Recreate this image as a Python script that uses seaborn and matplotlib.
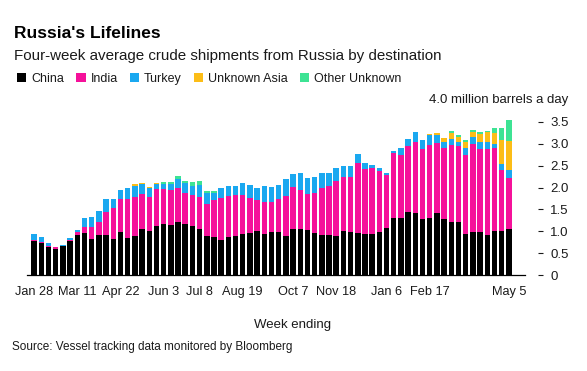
import numpy as np
import pandas as pd
import matplotlib
matplotlib.use("Agg")
import matplotlib.pyplot as plt
import seaborn as sns
from matplotlib.patches import Patch

# Weekly data, week ending Fridays, Jan 28 2022 .. May 5 2023 (million barrels a day)
weeks = pd.date_range("2022-01-28", periods=67, freq="7D")

china = [0.78, 0.74, 0.64, 0.60, 0.66, 0.77, 0.92, 0.96, 0.83, 0.92,
         0.92, 0.82, 0.98, 0.85, 0.90, 1.06, 1.01, 1.11, 1.17, 1.15,
         1.21, 1.17, 1.12, 1.05, 0.89, 0.86, 0.80, 0.88, 0.90, 0.93,
         0.96, 1.01, 0.93, 0.98, 0.98, 0.89, 1.05, 1.05, 1.03, 0.96,
         0.92, 0.92, 0.89, 1.01, 0.98, 0.95, 0.94, 0.94, 0.98, 1.08,
         1.31, 1.31, 1.43, 1.42, 1.29, 1.31, 1.42, 1.27, 1.22, 1.22,
         0.94, 0.98, 0.98, 0.92, 1.01, 1.00, 1.05]
india = [0.03, 0.02, 0.03, 0.03, 0.01, 0.03, 0.06, 0.14, 0.26, 0.30,
         0.53, 0.72, 0.76, 0.89, 0.89, 0.79, 0.77, 0.85, 0.80, 0.80,
         0.78, 0.70, 0.72, 0.73, 0.74, 0.86, 0.97, 0.93, 0.94, 0.90,
         0.81, 0.70, 0.74, 0.70, 0.75, 0.92, 0.96, 0.89, 0.82, 0.92,
         1.06, 1.12, 1.25, 1.23, 1.27, 1.62, 1.48, 1.51, 1.40, 1.20,
         1.47, 1.44, 1.51, 1.62, 1.59, 1.67, 1.60, 1.64, 1.76, 1.74,
         1.81, 2.02, 1.91, 1.95, 1.90, 1.40, 1.16]
turkey = [0.12, 0.10, 0.06, 0.02, 0.02, 0.05, 0.05, 0.20, 0.23, 0.25,
          0.28, 0.19, 0.21, 0.26, 0.25, 0.23, 0.22, 0.12, 0.11, 0.14,
          0.21, 0.23, 0.20, 0.27, 0.25, 0.16, 0.21, 0.23, 0.20, 0.28,
          0.28, 0.27, 0.36, 0.33, 0.33, 0.39, 0.30, 0.39, 0.36, 0.36,
          0.36, 0.30, 0.31, 0.25, 0.24, 0.19, 0.15, 0.07, 0.07, 0.05,
          0.06, 0.16, 0.18, 0.23, 0.20, 0.22, 0.17, 0.13, 0.12, 0.09,
          0.15, 0.16, 0.15, 0.17, 0.09, 0.14, 0.18]
unknown_asia = [0, 0, 0, 0, 0, 0, 0, 0, 0, 0,
                0, 0, 0, 0, 0.03, 0.03, 0.02, 0.03, 0, 0,
                0, 0, 0, 0, 0, 0, 0, 0, 0, 0,
                0, 0, 0, 0, 0, 0, 0, 0, 0, 0,
                0, 0, 0, 0, 0, 0, 0, 0, 0, 0,
                0, 0, 0, 0, 0, 0.03, 0.05, 0.10, 0.14, 0.11,
                0.14, 0.11, 0.19, 0.22, 0.24, 0.54, 0.68]
other_unknown = [0, 0, 0, 0, 0, 0, 0, 0, 0, 0,
                 0, 0, 0, 0, 0, 0, 0, 0, 0.04, 0.04,
                 0.06, 0.06, 0.09, 0.09, 0.05, 0.05, 0, 0, 0, 0,
                 0, 0, 0, 0, 0, 0, 0, 0, 0, 0,
                 0, 0, 0, 0, 0, 0, 0, 0, 0, 0,
                 0, 0, 0, 0, 0, 0, 0, 0, 0.05, 0.04,
                 0.05, 0.05, 0.04, 0.04, 0.12, 0.29, 0.48]

series_names = ["China", "India", "Turkey", "Unknown Asia", "Other Unknown"]
series_colors = ["#000000", "#f5119a", "#1aa8f0", "#fcbd17", "#3de394"]

tick_dates = ["2022-01-28", "2022-03-11", "2022-04-22", "2022-06-03", "2022-07-08",
              "2022-08-19", "2022-10-07", "2022-11-18", "2023-01-06", "2023-02-17",
              "2023-05-05"]
tick_labels = ["Jan 28", "Mar 11", "Apr 22", "Jun 3", "Jul 8", "Aug 19",
               "Oct 7", "Nov 18", "Jan 6", "Feb 17", "May 5"]
ytick_values = [0, 0.5, 1.0, 1.5, 2.0, 2.5, 3.0, 3.5]
ytick_labels = ["0", "0.5", "1.0", "1.5", "2.0", "2.5", "3.0", "3.5"]

df = pd.DataFrame({"week": weeks.strftime("%Y-%m-%d"),
                   "China": china, "India": india, "Turkey": turkey,
                   "Unknown Asia": unknown_asia, "Other Unknown": other_unknown})
cum = df[series_names].cumsum(axis=1)

sns.set_style("white")
plt.rcParams["font.family"] = ["Liberation Sans", "DejaVu Sans"]
text_color = "#1a1a1a"

W, H = 587, 371
fig = plt.figure(figsize=(W / 100, H / 100), dpi=100)
ax = fig.add_axes([27 / W, 1 - 275 / H, (525 - 27) / W, 175 / H])

# draw from the tallest cumulative layer down so each layer covers the one below
for name, color in zip(reversed(series_names), reversed(series_colors)):
    sns.barplot(x=df["week"], y=cum[name], order=df["week"], color=color,
                saturation=1, width=0.76, errorbar=None, linewidth=0, ax=ax)

ax.set_xlim(-1.0, 68.25)
ax.set_ylim(0, 4.0)
ax.set_xlabel("")
ax.set_ylabel("")

week_list = list(df["week"])
ax.set_xticks([week_list.index(d) for d in tick_dates])
ax.set_xticklabels(tick_labels)
ax.tick_params(axis="x", length=3, width=0.8, color=text_color, pad=5,
               labelsize=9.2, labelcolor=text_color)

ax.yaxis.tick_right()
ax.spines["right"].set_position(("outward", 9.5))
ax.set_yticks(ytick_values)
ax.set_yticklabels(ytick_labels)
ax.tick_params(axis="y", length=3.6, width=0.8, color=text_color, pad=5,
               labelsize=9.5, labelcolor=text_color)

for s in ["top", "left", "right"]:
    ax.spines[s].set_visible(False)
ax.spines["bottom"].set_color("#000000")
ax.spines["bottom"].set_linewidth(0.9)

fig.text(568 / W, 1 - 100 / H, "4.0 million barrels a day", ha="right", va="center",
         fontsize=9.5, color=text_color)

fig.text(14 / W, 1 - 33 / H, "Russia's Lifelines", ha="left", va="center",
         fontsize=12.5, fontweight="bold", color="#000000")
fig.text(14 / W, 1 - 56 / H, "Four-week average crude shipments from Russia by destination",
         ha="left", va="center", fontsize=10.9, color=text_color)

handles = [Patch(facecolor=c, edgecolor="none") for c in series_colors]
fig.legend(handles, series_names, loc="center left", bbox_to_anchor=(12 / W, 1 - 79 / H),
           ncol=5, frameon=False, fontsize=9, handlelength=0.75, handleheight=0.75,
           handletextpad=0.4, columnspacing=0.95, borderaxespad=0, labelcolor=text_color)

fig.text(293 / W, 1 - 325 / H, "Week ending", ha="center", va="center",
         fontsize=9.5, color=text_color)
fig.text(12 / W, 1 - 347 / H, "Source: Vessel tracking data monitored by Bloomberg",
         ha="left", va="center", fontsize=8.5, color=text_color)

fig.savefig("out.png", dpi=100)
